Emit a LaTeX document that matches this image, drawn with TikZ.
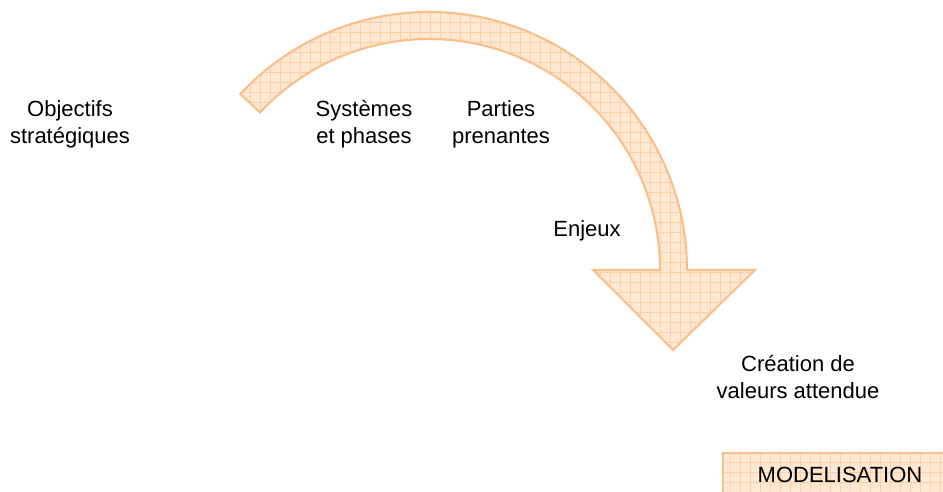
\documentclass[tikz,border=0pt]{standalone}
\usepackage{fontspec}
\setmainfont{Liberation Sans}
\usepackage{xcolor}
\usepackage{tikz}
\usetikzlibrary{calc}
\definecolor{pale}{RGB}{254,232,210}
\definecolor{gridc}{RGB}{251,208,166}
\definecolor{edge}{RGB}{250,192,140}
\newcommand{\bentarrow}{(429,222) ++(137:258) arc[start angle=137, end angle=0, radius=258]
  -- (755,222) -- (673,142) -- (593,222) -- (660,222)
  arc[start angle=0, end angle=137, radius=231] -- cycle}
\tikzset{lbl/.style={align=center, font=\fontsize{16.5}{20.3}\selectfont},
  gridlines/.style={draw=gridc, line width=0.6pt}}

\begin{document}
\begin{tikzpicture}[x=0.75pt, y=0.75pt]
  \useasboundingbox (0,0) rectangle (943,492);
  \clip (0,0) rectangle (943,492);
  \begin{scope}
    \clip \bentarrow;
    \fill[pale] (150,100) rectangle (800,492);
    \draw[gridlines, step=10] (150,100) grid (800,492);
  \end{scope}
  \draw[edge, line width=1.6pt, line join=miter] \bentarrow;
  \begin{scope}
    \clip (723,-20) rectangle (980,39);
    \fill[pale] (723,-20) rectangle (980,39);
    \draw[gridlines, step=10] (723,-20) grid (980,39);
  \end{scope}
  \draw[edge, line width=1.6pt] (723,-20) -- (723,39) -- (980,39);
  \node[lbl] (obj) at (70,368) {Objectifs\\stratégiques};
  \node[lbl] (sys) at (364,368) {Systèmes\\et phases};
  \node[lbl] (part) at (501,368) {Parties\\prenantes};
  \node[lbl] (enj) at (587,261) {Enjeux};
  \node[lbl] (crea) at (798,115) {Création de\\valeurs attendue};
  \node[lbl] (mod) at (840,17) {MODELISATION};
\end{tikzpicture}
\end{document}
